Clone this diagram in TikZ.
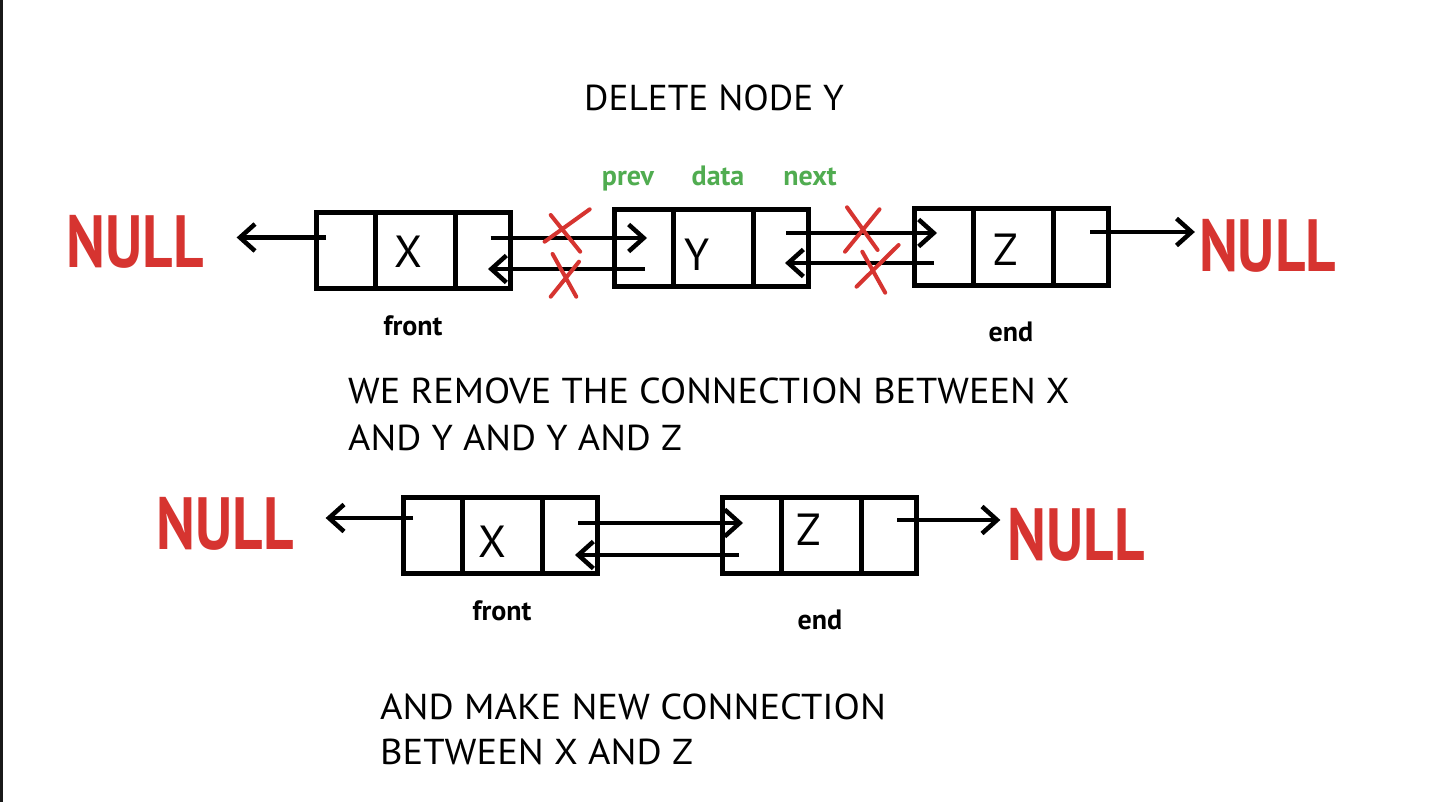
\documentclass[tikz,border=0pt]{standalone}
\usepackage{fontspec}
\setmainfont{PT Sans}
\usetikzlibrary{arrows.meta,calc}
\definecolor{nullred}{RGB}{214,52,48}
\definecolor{lblgreen}{RGB}{80,172,80}
\begin{document}
\begin{tikzpicture}[x=1pt,y=-1pt,
  cellbase/.style={draw, line width=5pt, minimum height=76pt, inner sep=0pt, outer sep=0pt},
  cp/.style={cellbase, minimum width=59pt},
  cd/.style={cellbase, minimum width=80pt},
  cn/.style={cellbase, minimum width=55pt},
  arr/.style={line width=4.5pt, -{Straight Barb[length=15pt,width=27pt]}},
  cross/.style={draw=nullred, line width=4pt, line cap=round},
  nulltxt/.style={text=nullred, font=\fontsize{74}{74}\selectfont\bfseries, inner sep=0pt},
  letter/.style={font=\fontsize{45}{45}\selectfont, inner sep=0pt},
  small/.style={font=\fontsize{28}{28}\selectfont\bfseries, inner sep=0pt, anchor=base},
  greenlbl/.style={small, text=lblgreen},
  body/.style={font=\fontsize{36}{36}\selectfont, inner sep=0pt, anchor=base west},
]
\useasboundingbox (0,0) rectangle (1434,802);
\fill[white] (0,0) rectangle (1434,802);
\fill[black!90] (0,0) rectangle (3,802);

% ---------- top row ----------
\node[cp] (xp) at (345.5,250.5) {};
\node[cd, anchor=west] (xd) at (xp.east) {};
\node[cn, anchor=west] (xn) at (xd.east) {};
\node[cp] (yp) at (643.5,248) {};
\node[cd, anchor=west] (yd) at (yp.east) {};
\node[cn, anchor=west] (yn) at (yd.east) {};
\node[cp] (zp) at (943.5,247) {};
\node[cd, anchor=west] (zd) at (zp.east) {};
\node[cn, anchor=west] (zn) at (zd.east) {};

\node[letter] (lx) at (408,252) {X};
\node[letter] (ly) at (697,255) {Y};
\node[letter] (lz) at (1006,250) {Z};

\node[nulltxt] (nullA) at (135,241.5) {\scalebox{0.8}[1]{NULL}};
\node[nulltxt] (nullB) at (1267.5,246) {\scalebox{0.8}[1]{NULL}};

\node[greenlbl] (lprev) at (628,186) {prev};
\node[greenlbl] (ldata) at (718,186) {data};
\node[greenlbl] (lnext) at (810,186) {next};
\node[small] (front1) at (413,335) {front};
\node[small] (end1) at (1011,341) {end};

\coordinate (s1) at ([shift={(10,-13)}]xp.west);
\coordinate (e1) at ([xshift=33pt]nullA.east);
\draw[arr] (s1) -- (s1 -| e1);
\coordinate (s2) at ([shift={(8,-12.5)}]xn.center);
\coordinate (e2) at ([xshift=3.5pt]yp.center);
\draw[arr] (s2) -- (s2 -| e2);
\coordinate (s3) at ([shift={(1.5,21)}]yp.center);
\coordinate (e3) at ([xshift=5.5pt]xn.center);
\draw[arr] (s3) -- (s3 -| e3);
\coordinate (s4) at ([shift={(5.5,-15)}]yn.center);
\coordinate (e4) at ([xshift=-6.5pt]zp.center);
\draw[arr] (s4) -- (s4 -| e4);
\coordinate (s5) at ([shift={(-9.5,16)}]zp.center);
\coordinate (e5) at ([xshift=4.5pt]yn.center);
\draw[arr] (s5) -- (s5 -| e5);
\coordinate (s6) at ([shift={(9.5,-15)}]zn.center);
\coordinate (e6) at ([xshift=-4pt]nullB.west);
\draw[arr] (s6) -- (s6 -| e6);

\draw[cross] (589.7,209.3) -- (544.6,241.7) (550.7,215) -- (580.2,251.7);
\draw[cross] (552.6,254) -- (576.3,296.7) (579,261.7) -- (550.7,296.7);
\draw[cross] (847,207.3) -- (877.6,250) (879.5,209.3) -- (845,251.7);
\draw[cross] (862.3,251.7) -- (885.2,292.7) (898.6,245) -- (856.5,286.7);

% ---------- texts ----------
\node[body] (title) at (584,111) {\scalebox{1.035}[1]{DELETE NODE Y}};
\node[body] (p1a) at (348,403) {\scalebox{1.062}[1]{WE REMOVE THE CONNECTION BETWEEN X}};
\node[body] (p1b) at (348,450) {\scalebox{1.062}[1]{AND Y AND Y AND Z}};
\node[body] (p2a) at (380,719) {\scalebox{1.07}[1]{AND MAKE NEW CONNECTION}};
\node[body] (p2b) at (380,764) {\scalebox{1.07}[1]{BETWEEN X AND Z}};

% ---------- bottom row ----------
\node[cp] (bxp) at (432.5,535) {};
\node[cd, anchor=west] (bxd) at (bxp.east) {};
\node[cn, anchor=west] (bxn) at (bxd.east) {};
\node[cp] (bzp) at (751.5,535) {};
\node[cd, anchor=west] (bzd) at (bzp.east) {};
\node[cn, anchor=west] (bzn) at (bzd.east) {};

\node[letter] (blx) at (492.5,541.5) {X};
\node[letter] (blz) at (809,530) {Z};

\node[nulltxt] (nullC) at (225,524) {\scalebox{0.8}[1]{NULL}};
\node[nulltxt] (nullD) at (1076,534.5) {\scalebox{0.8}[1]{NULL}};

\node[small] (front2) at (502,620) {front};
\node[small] (end2) at (820,629) {end};

\coordinate (s7) at ([shift={(10,-17)}]bxp.west);
\coordinate (e7) at ([xshift=32pt]nullC.east);
\draw[arr] (s7) -- (s7 -| e7);
\coordinate (s8) at ([shift={(8.5,-12)}]bxn.center);
\coordinate (e8) at ([xshift=-8.5pt]bzp.center);
\draw[arr] (s8) -- (s8 -| e8);
\coordinate (s9) at ([shift={(-12.5,20)}]bzp.center);
\coordinate (e9) at ([xshift=5.5pt]bxn.center);
\draw[arr] (s9) -- (s9 -| e9);
\coordinate (s10) at ([shift={(8.5,-15)}]bzn.center);
\coordinate (e10) at ([xshift=-7pt]nullD.west);
\draw[arr] (s10) -- (s10 -| e10);
\end{tikzpicture}
\end{document}
